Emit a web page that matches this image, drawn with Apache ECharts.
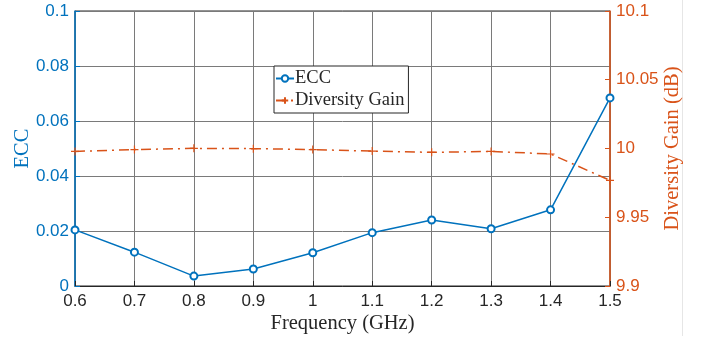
<!DOCTYPE html>
<html>
<head>
<meta charset="utf-8">
<script src="https://cdn.jsdelivr.net/npm/echarts@6/dist/echarts.min.js"></script>
<style>
html,body{margin:0;padding:0;background:#fff;}
#chart{width:702px;height:339px;}
</style>
</head>
<body>
<div id="chart"></div>
<script>
var frequencies = ['0.6','0.7','0.8','0.9','1','1.1','1.2','1.3','1.4','1.5'];
var eccValues = [0.0204,0.0123,0.0036,0.0062,0.0121,0.0194,0.0240,0.0208,0.0277,0.0684];
var diversityGain = [9.9979,9.9992,10.0001,9.9999,9.9992,9.9981,9.9972,9.9979,9.9960,9.9768];
var eccTicks = [0,0.02,0.04,0.06,0.08,0.1];
var dgTicks = [9.9,9.95,10,10.05,10.1];

var BLUE = '#0072BD', ORANGE = '#D95319', DARK = '#262626';
var chart = echarts.init(document.getElementById('chart'), null, {renderer:'canvas'});
var plus = 'path://M0,5 L10,5 M5,0 L5,10';
chart.setOption({
  animation:false,
  backgroundColor:'#fff',
  grid:{left:75,right:92,top:11,bottom:53,show:true,borderColor:DARK,borderWidth:1,backgroundColor:'transparent'},
  legend:{
    orient:'vertical', left:274, top:66,
    backgroundColor:'#fff', borderColor:DARK, borderWidth:1,
    padding:[3,4,3,1], itemGap:3, itemWidth:18, itemHeight:8,
    textStyle:{fontFamily:'Liberation Serif',fontSize:18.5,color:DARK,padding:[0,0,0,-4]},
    data:['ECC','Diversity Gain']
  },
  xAxis:{
    type:'category', data:frequencies, boundaryGap:false,
    name:'Frequency (GHz)', nameLocation:'middle', nameGap:27, nameMoveOverlap:false,
    nameTextStyle:{fontFamily:'Liberation Serif',fontSize:20.5,color:DARK},
    axisLine:{lineStyle:{color:DARK,width:1}},
    axisTick:{inside:true,length:5,lineStyle:{color:DARK}},
    axisLabel:{fontFamily:'Liberation Sans',fontSize:17,color:DARK,margin:7},
    splitLine:{show:true,lineStyle:{color:'#7a7a7a',width:1}}
  },
  yAxis:[{
    type:'value', min:0, max:0.1, interval:0.02, position:'left',
    name:'ECC', nameLocation:'middle', nameGap:42, nameRotate:90, nameMoveOverlap:false,
    nameTextStyle:{fontFamily:'Liberation Serif',fontSize:20.5,color:BLUE},
    axisLine:{show:true,lineStyle:{color:BLUE,width:1.5}},
    axisTick:{show:true,inside:true,length:5,lineStyle:{color:BLUE}},
    axisLabel:{fontFamily:'Liberation Sans',fontSize:17,color:BLUE,margin:6,
      formatter:function(v){var t=eccTicks.filter(function(x){return Math.abs(x-v)<1e-9;});return t.length?String(t[0]):'';}},
    splitLine:{show:true,lineStyle:{color:'#7a7a7a',width:1}}
  },{
    type:'value', min:9.9, max:10.1, interval:0.05, position:'right',
    name:'Diversity Gain (dB)', nameLocation:'middle', nameGap:52, nameRotate:90, nameMoveOverlap:false,
    nameTextStyle:{fontFamily:'Liberation Serif',fontSize:20.5,color:ORANGE},
    axisLine:{show:true,lineStyle:{color:ORANGE,width:1.5}},
    axisTick:{show:true,inside:true,length:5,lineStyle:{color:ORANGE}},
    axisLabel:{fontFamily:'Liberation Sans',fontSize:17,color:ORANGE,margin:6,
      formatter:function(v){var t=dgTicks.filter(function(x){return Math.abs(x-v)<1e-6;});return t.length?String(t[0]):'';}},
    splitLine:{show:false}
  }],
  series:[{
    name:'ECC', type:'line', yAxisIndex:0, data:eccValues,
    symbol:'emptyCircle', symbolSize:7, showAllSymbol:true,
    lineStyle:{color:BLUE,width:1.5},
    itemStyle:{color:BLUE,borderColor:BLUE,borderWidth:1.3},
    z:3
  },{
    name:'Diversity Gain', type:'line', yAxisIndex:1, data:diversityGain,
    symbol:plus, symbolSize:8, showAllSymbol:true,
    lineStyle:{color:ORANGE,width:1.5,type:[10,5,2,5]},
    itemStyle:{color:ORANGE,borderColor:ORANGE,borderWidth:1.2},
    z:2
  }],
  graphic:[{type:'line',shape:{x1:682.5,y1:0,x2:682.5,y2:336},style:{stroke:'#e6e6e6',lineWidth:1},silent:true}]
});
</script>
</body>
</html>
